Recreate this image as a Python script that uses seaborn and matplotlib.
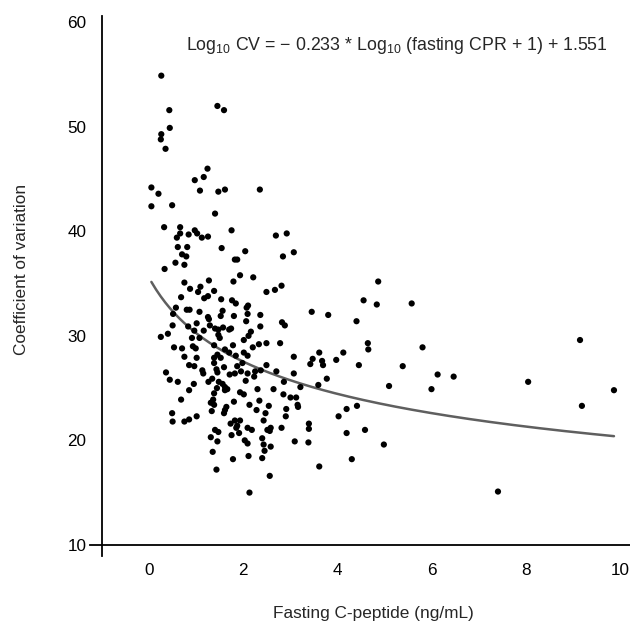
import numpy as np
import pandas as pd
import matplotlib
matplotlib.use("Agg")
import matplotlib.pyplot as plt
import seaborn as sns

# Fasting C-peptide (ng/mL) and coefficient of variation for each subject
cpr = [
    0.26, 0.43, 1.45, 1.59, 0.44, 0.26, 0.25, 0.35, 1.24, 0.97, 1.16, 0.05, 0.20, 1.08, 1.47, 1.61,
    0.05, 0.49, 1.40, 0.32, 0.66, 1.75, 0.66, 0.59, 0.84, 0.97, 1.02, 1.12, 1.25,
    0.61, 0.81, 1.54, 2.04, 0.70, 0.79, 1.82, 1.87, 0.56, 0.75, 0.33, 1.93, 1.27, 0.75, 1.79, 0.87,
    1.09, 1.38, 1.04, 0.68, 1.25, 1.17, 1.53, 1.76, 1.84, 2.07, 0.80, 0.86, 0.57, 1.07, 1.56, 0.51,
    1.25, 1.27, 1.52, 1.80, 2.09, 2.06, 1.01, 0.83, 0.50, 1.29, 1.40, 1.47, 1.57, 1.70, 1.74, 1.16,
    0.96, 0.40, 0.25, 0.91, 1.07, 1.47, 1.50, 2.01, 2.11, 0.53, 0.70, 0.93, 0.99, 1.38, 1.78, 1.61,
    1.70, 0.75, 1.01, 1.38, 1.45, 1.52, 1.84,
    0.85, 0.96, 1.38, 1.43, 1.45, 1.59, 1.87, 1.98, 1.13, 1.15, 0.36, 0.44, 0.61, 0.95, 1.26, 1.34,
    1.48, 1.56, 1.71, 1.82, 1.95, 2.09, 2.05, 1.61, 1.66, 1.61, 1.44, 0.85, 1.38, 1.93, 2.01, 0.68,
    1.36, 1.31, 1.38, 1.80, 2.13, 1.64, 1.61, 1.59, 1.33, 0.49, 1.01, 0.85, 0.75, 0.50, 1.73, 1.82,
    1.93, 1.87, 1.85, 2.09, 1.40, 1.47, 1.91, 1.75, 1.31, 1.45, 2.03, 2.09, 1.35, 2.11, 1.78, 1.43,
    2.13,
    2.35, 2.69, 2.92, 2.84, 3.07, 2.21, 2.49, 2.67, 2.81, 4.86, 4.55, 4.83, 2.10, 2.36, 2.36, 2.16,
    2.82, 2.88, 3.45, 3.80, 4.40, 2.20, 2.33, 2.49, 2.78, 4.64, 4.65,
    3.07, 3.47, 3.61, 3.67, 3.69, 3.42, 3.97, 4.12, 4.45, 2.01, 2.09, 2.49, 2.37, 2.70, 2.25, 2.23,
    3.07, 2.86, 3.77, 3.59, 3.21, 5.09, 2.30, 2.64, 2.85, 3.00, 3.12, 3.15, 3.16, 2.34, 2.54, 2.91,
    2.28, 2.47, 4.19, 4.41, 2.90, 4.02, 2.43, 3.39, 3.39, 2.18, 2.51, 2.58, 2.56, 2.81, 4.58, 4.19,
    2.40, 3.09, 3.38, 2.43, 2.58, 2.45, 4.98, 2.40, 4.30, 3.61, 2.56,
    5.57, 5.80, 5.38, 6.12, 6.46, 5.99, 8.04, 9.14, 9.18, 9.86, 7.40,
]
cv = [
    54.9, 51.6, 52.0, 51.6, 49.9, 49.3, 48.8, 47.9, 46.0, 44.9, 45.2, 44.2, 43.6, 43.9, 43.8, 44.0,
    42.4, 42.5, 41.7, 40.4, 40.4, 40.1, 39.8, 39.4, 39.7, 40.1, 39.8, 39.4, 39.5,
    38.5, 38.5, 38.4, 38.1, 37.8, 37.6, 37.3, 37.3, 37.0, 36.8, 36.4, 35.8, 35.3, 35.1, 35.2, 34.5,
    34.7, 34.3, 34.2, 33.7, 33.8, 33.6, 33.5, 33.4, 33.1, 32.7, 32.5, 32.5, 32.7, 32.3, 32.4, 32.1,
    31.8, 31.6, 31.9, 31.9, 32.1, 31.4, 31.2, 30.9, 31.0, 31.0, 30.7, 30.6, 30.8, 30.6, 30.7, 30.5,
    30.5, 30.2, 29.9, 29.8, 29.8, 30.1, 29.8, 29.6, 30.0, 28.9, 28.8, 29.0, 28.8, 29.1, 29.1, 28.7,
    28.4, 28.0, 27.9, 27.9, 28.2, 27.9, 28.1,
    27.2, 27.1, 27.4, 26.8, 26.5, 27.0, 27.1, 27.4, 26.7, 26.4, 26.5, 25.8, 25.6, 25.4, 25.6, 25.9,
    25.6, 25.4, 26.3, 26.4, 26.6, 26.4, 25.7, 25.1, 24.9, 24.8, 25.0, 24.8, 24.5, 24.6, 24.4, 23.9,
    23.9, 23.6, 23.4, 23.7, 23.4, 23.2, 22.9, 22.6, 22.8, 22.6, 22.3, 22.0, 21.8, 21.8, 21.6, 21.9,
    21.9, 21.4, 21.2, 21.2, 21.0, 20.8, 20.7, 20.5, 20.3, 19.9, 20.0, 19.7, 18.9, 18.5, 18.2, 17.2,
    15.0,
    44.0, 39.6, 39.8, 37.6, 38.0, 35.6, 34.2, 34.4, 34.8, 35.2, 33.4, 33.0, 32.9, 32.0, 30.9, 30.4,
    31.3, 31.0, 32.3, 32.0, 31.4, 28.9, 29.2, 29.3, 29.3, 29.3, 28.7,
    28.0, 27.8, 28.4, 27.6, 27.2, 27.3, 27.7, 28.4, 27.2, 28.4, 28.1, 27.2, 26.7, 26.6, 26.6, 26.1,
    26.4, 25.6, 25.9, 25.3, 25.1, 25.2, 24.9, 24.9, 24.4, 24.1, 24.1, 23.4, 23.2, 23.8, 23.3, 23.0,
    22.9, 22.6, 23.0, 23.3, 22.3, 22.3, 21.9, 21.6, 21.1, 21.0, 21.0, 21.2, 20.9, 21.2, 21.0, 20.7,
    20.2, 19.9, 19.8, 19.6, 19.4, 19.0, 19.6, 18.3, 18.2, 17.5, 16.6,
    33.1, 28.9, 27.1, 26.3, 26.1, 24.9, 25.6, 29.6, 23.3, 24.8, 15.1,
]

# Regression coefficients: log10(CV) = slope * log10(CPR + 1) + intercept
slope = -0.233
intercept = 1.551

x_ticks = [0, 2, 4, 6, 8, 10]
y_ticks = [10, 20, 30, 40, 50, 60]

df = pd.DataFrame({"cpr": cpr, "cv": cv})
x_fit = np.linspace(min(cpr), max(cpr), 200)
fit = pd.DataFrame({"cpr": x_fit, "cv": 10 ** (slope * np.log10(x_fit + 1) + intercept)})

sns.set_style("white")
plt.rcParams["font.family"] = ["Liberation Sans", "DejaVu Sans"]
plt.rcParams["mathtext.default"] = "regular"

fig = plt.figure(figsize=(6.3, 6.23), dpi=100)
ax = fig.add_axes([0.143, 0.107, 0.857, 0.868])

sns.scatterplot(data=df, x="cpr", y="cv", ax=ax, color="black", s=20,
                edgecolor="none", zorder=3)
sns.lineplot(data=fit, x="cpr", y="cv", ax=ax, color="#5f5f5f", linewidth=1.8, zorder=2)

ax.set_xlim(-1.25, 10.2)
ax.set_ylim(8.9, 60.65)
ax.set_xticks(x_ticks)
ax.set_yticks(y_ticks)
ax.tick_params(axis="both", length=0, labelsize=12.3, colors="black")
ax.tick_params(axis="x", pad=13)
ax.tick_params(axis="y", pad=11)

for side in ["top", "right"]:
    ax.spines[side].set_visible(False)
ax.spines["left"].set_position(("data", -1))
ax.spines["bottom"].set_position(("data", 10))
for side in ["left", "bottom"]:
    ax.spines[side].set_color("black")
    ax.spines[side].set_linewidth(1.3)

ax.set_xlabel("Fasting C-peptide (ng/mL)", fontsize=12.4)
ax.set_ylabel("Coefficient of variation", fontsize=12.4)
ax.xaxis.set_label_coords(0.525, -0.092)
ax.yaxis.set_label_coords(-0.113, 0.53)

ax.text(5.26, 57.75, r"Log$_{10}$ CV = − 0.233 * Log$_{10}$ (fasting CPR + 1) + 1.551",
        ha="center", va="center", fontsize=12.8)

fig.savefig("out.png", dpi=100)
